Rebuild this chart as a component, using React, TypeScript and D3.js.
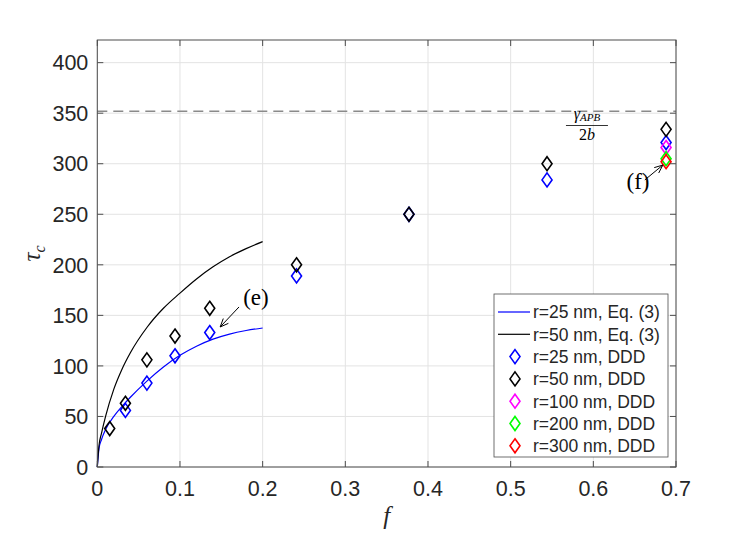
import * as d3 from "d3";

// Eq. (3) curves
const fEq = [0, 0.002, 0.005, 0.01, 0.02, 0.03, 0.04, 0.06, 0.08, 0.1, 0.12, 0.14, 0.16, 0.18, 0.2];
const tauEq25 = [0, 18, 27, 37, 50, 60, 69, 85, 99, 110.5, 119.5, 126.5, 131.5, 135, 137.5];
const tauEq50 = [0, 21, 33, 50, 77, 97, 113, 138, 157, 172, 186, 198, 208, 216, 223];

// DDD results
const fDDD25 = [0.034, 0.06, 0.094, 0.136, 0.241, 0.377, 0.544, 0.688];
const tauDDD25 = [56, 83, 110, 133, 189, 250, 284, 321];
const fDDD50 = [0.015, 0.034, 0.06, 0.094, 0.136, 0.241, 0.377, 0.544, 0.688];
const tauDDD50 = [38, 63, 106, 129.5, 157, 200, 250, 300, 334];
const fDDD100 = [0.688];
const tauDDD100 = [316];
const fDDD200 = [0.688];
const tauDDD200 = [305];
const fDDD300 = [0.688];
const tauDDD300 = [302];

const xTicks = [0, 0.1, 0.2, 0.3, 0.4, 0.5, 0.6, 0.7];
const yTicks = [0, 50, 100, 150, 200, 250, 300, 350, 400];
const gammaLimit = 352;

const legendItems = [
  { label: "r=25 nm, Eq. (3)", color: "#0000ff", kind: "line" },
  { label: "r=50 nm, Eq. (3)", color: "#000000", kind: "line" },
  { label: "r=25 nm, DDD", color: "#0000ff", kind: "marker" },
  { label: "r=50 nm, DDD", color: "#000000", kind: "marker" },
  { label: "r=100 nm, DDD", color: "#ff00ff", kind: "marker" },
  { label: "r=200 nm, DDD", color: "#00ff00", kind: "marker" },
  { label: "r=300 nm, DDD", color: "#ff0000", kind: "marker" },
];

const W = 747;
const H = 534;
const margin = { left: 97.3, right: W - 676, top: 40, bottom: H - 467 };

const x = d3.scaleLinear().domain([0, 0.7]).range([margin.left, W - margin.right]);
const y = d3.scaleLinear().domain([0, 422.4]).range([H - margin.bottom, margin.top]);

const diamond = (cx: number, cy: number) =>
  `M${cx},${cy - 7}L${cx + 5},${cy}L${cx},${cy + 7}L${cx - 5},${cy}Z`;

const line = d3
  .line<number>()
  .x((d) => x(d))
  .curve(d3.curveMonotoneX);

const arrow = (x0: number, y0: number, x1: number, y1: number) => {
  const px0 = x(x0), py0 = y(y0), px1 = x(x1), py1 = y(y1);
  const a = Math.atan2(py1 - py0, px1 - px0);
  const L = 9, s = 0.4;
  const h1 = [px1 - L * Math.cos(a - s), py1 - L * Math.sin(a - s)];
  const h2 = [px1 - L * Math.cos(a + s), py1 - L * Math.sin(a + s)];
  return `M${px0},${py0}L${px1},${py1}M${h1[0]},${h1[1]}L${px1},${py1}L${h2[0]},${h2[1]}`;
};

const serif = "'Liberation Serif', 'DejaVu Serif', serif";
const sans = "'Liberation Sans', Arial, sans-serif";
const axisColor = "#4d4d4d";
const textColor = "#262626";

export default function App() {
  const x0 = margin.left, x1 = W - margin.right, y0 = H - margin.bottom, y1 = margin.top;
  const series: [number[], number[], string][] = [
    [fDDD25, tauDDD25, "#0000ff"],
    [fDDD50, tauDDD50, "#000000"],
    [fDDD100, tauDDD100, "#ff00ff"],
    [fDDD200, tauDDD200, "#00ff00"],
    [fDDD300, tauDDD300, "#ff0000"],
  ];
  const legX = 494, legY = 294, legW = 174, legH = 163;
  const fracX = x(0.5923);
  return (
    <svg width={W} height={H} style={{ position: "absolute", left: 0, top: 0, background: "#fff" }}>
      {/* grid */}
      {xTicks.map((t) => (
        <line key={"gx" + t} x1={x(t)} x2={x(t)} y1={y0} y2={y1} stroke="#e3e3e3" strokeWidth={1} />
      ))}
      {yTicks.map((t) => (
        <line key={"gy" + t} x1={x0} x2={x1} y1={y(t)} y2={y(t)} stroke="#e3e3e3" strokeWidth={1} />
      ))}
      {/* dashed APB limit */}
      <line x1={x0} x2={x1} y1={y(gammaLimit)} y2={y(gammaLimit)} stroke="#8a8a8a" strokeWidth={1.5} strokeDasharray="10,6" />
      {/* Eq. (3) curves */}
      <path d={line.y((_, i) => y(tauEq25[i]))(fEq) || ""} fill="none" stroke="#0000ff" strokeWidth={1.2} />
      <path d={line.y((_, i) => y(tauEq50[i]))(fEq) || ""} fill="none" stroke="#000000" strokeWidth={1.2} />
      {/* DDD markers */}
      {series.map(([fs, ts, c]) =>
        fs.map((f, i) => (
          <path key={c + i} d={diamond(x(f), y(ts[i]))} fill="none" stroke={c} strokeWidth={1.6} />
        ))
      )}
      {/* annotations */}
      <path d={arrow(0.1714, 158.3, 0.1486, 138.5)} fill="none" stroke="#000" strokeWidth={1} />
      <text x={x(0.1765)} y={y(165)} dominantBaseline="middle" fontFamily={serif} fontSize={23} fill="#000">(e)</text>
      <path d={arrow(0.6623, 284, 0.6841, 298.7)} fill="none" stroke="#000" strokeWidth={1} />
      <text x={x(0.654)} y={y(280)} dominantBaseline="middle" textAnchor="middle" fontFamily={serif} fontSize={23} fill="#000">(f)</text>
      <g fontFamily={serif} fill="#000" fontStyle="italic">
        <text x={fracX} y={119} textAnchor="middle" fontSize={16}>
          γ<tspan fontSize={11} dy={2}>APB</tspan>
        </text>
        <line x1={fracX - 21} x2={fracX + 21} y1={125.5} y2={125.5} stroke="#000" strokeWidth={0.8} />
        <text x={fracX} y={140} textAnchor="middle" fontSize={16} fontStyle="normal">
          2<tspan fontStyle="italic">b</tspan>
        </text>
      </g>
      {/* axes box */}
      <rect x={x0} y={y1} width={x1 - x0} height={y0 - y1} fill="none" stroke={axisColor} strokeWidth={1} />
      {xTicks.map((t) => (
        <g key={"tx" + t}>
          <line x1={x(t)} x2={x(t)} y1={y0} y2={y0 - 6} stroke={axisColor} />
          <line x1={x(t)} x2={x(t)} y1={y1} y2={y1 + 6} stroke={axisColor} />
          <text x={x(t)} y={y0 + 29} textAnchor="middle" fontFamily={sans} fontSize={21.5} fill={textColor}>
            {t === 0 ? "0" : t.toFixed(1)}
          </text>
        </g>
      ))}
      {yTicks.map((t) => (
        <g key={"ty" + t}>
          <line x1={x0} x2={x0 + 6} y1={y(t)} y2={y(t)} stroke={axisColor} />
          <line x1={x1} x2={x1 - 6} y1={y(t)} y2={y(t)} stroke={axisColor} />
          <text x={x0 - 9} y={y(t)} dy="0.36em" textAnchor="end" fontFamily={sans} fontSize={21.5} fill={textColor}>
            {t}
          </text>
        </g>
      ))}
      {/* axis labels */}
      <text x={(x0 + x1) / 2} y={524} textAnchor="middle" fontFamily={serif} fontStyle="italic" fontSize={25} fill={textColor}>
        f
      </text>
      <text transform={`translate(40,${(y0 + y1) / 2}) rotate(-90)`} textAnchor="middle" fontFamily={serif} fontStyle="italic" fontSize={25} fill={textColor}>
        τ<tspan fontSize={16} dy={5}>c</tspan>
      </text>
      {/* legend */}
      <rect x={legX} y={legY} width={legW} height={legH} fill="#fff" stroke={axisColor} strokeWidth={0.8} />
      {legendItems.map((d, i) => {
        const ly = legY + 18 + i * 22.3;
        return (
          <g key={d.label}>
            {d.kind === "line" ? (
              <line x1={legX + 4} x2={legX + 36} y1={ly} y2={ly} stroke={d.color} strokeWidth={1.2} />
            ) : (
              <path d={diamond(legX + 21, ly)} fill="none" stroke={d.color} strokeWidth={1.6} />
            )}
            <text x={legX + 39} y={ly} dy="0.36em" fontFamily={sans} fontSize={17.5} fill={textColor}>
              {d.label}
            </text>
          </g>
        );
      })}
    </svg>
  );
}
